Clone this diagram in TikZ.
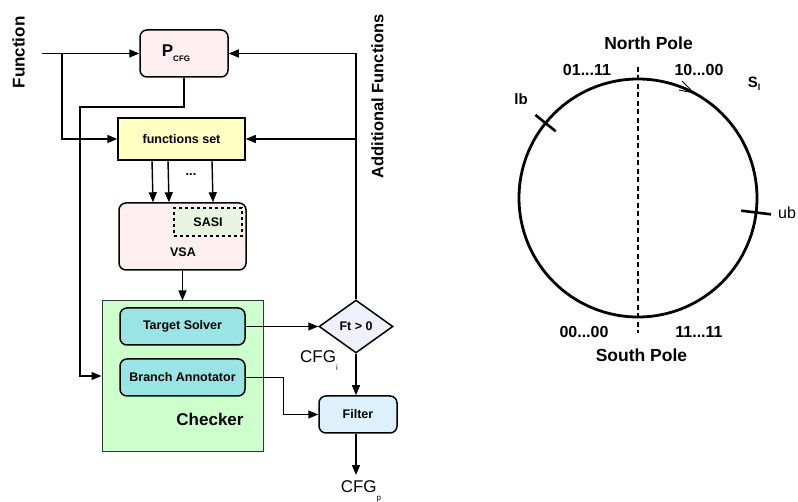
\documentclass[tikz,border=0pt]{standalone}
\usepackage{fontspec}
\setmainfont{Liberation Sans}
\definecolor{boxpink}{HTML}{FDEFEF}
\definecolor{setyellow}{HTML}{FFFFC2}
\definecolor{sasigreen}{HTML}{E9F3E2}
\definecolor{checkgreen}{HTML}{CCFFCC}
\definecolor{stepcyan}{HTML}{99E5E5}
\definecolor{filterblue}{HTML}{DCF1FB}
\definecolor{testgray}{HTML}{EEF0FB}
\usetikzlibrary{arrows.meta, shapes.geometric, positioning}

\begin{document}
\begin{tikzpicture}[x=1pt, y=-1pt,
   block/.style={draw, line width=1.5pt, rounded corners=7pt, inner sep=0pt,
      font=\bfseries\fontsize{12.5}{14}\selectfont},
   flow/.style={-{Triangle[length=10pt,width=8pt]}, line width=1.4pt},
   lbl/.style={font=\bfseries\fontsize{16}{18}\selectfont}]
   \useasboundingbox (0,0) rectangle (798,502);
   % Left: pipeline
   \node[rotate=90, font=\bfseries\fontsize{17}{18}\selectfont] (fname) at (18.5,52.5) {Function};
   \node[rotate=90, font=\bfseries\fontsize{16.5}{18}\selectfont] (addfn) at (377.5,96.5) {Additional Functions};
   \node[block, fill=boxpink, minimum width=88pt, minimum height=47pt] (pcfg) at (184,53.5)
      {{\fontsize{17}{17}\selectfont P}\raisebox{-5pt}{\fontsize{8}{8}\selectfont CFG}\hspace*{16pt}};
   \node[block, fill=setyellow, rounded corners=0pt, minimum width=127pt, minimum height=42pt] (fset) at (181.5,139) {functions set};
   \node[font=\bfseries\fontsize{13}{13}\selectfont] (dots) at (191,175) {...};
   \node[block, fill=boxpink, minimum width=127pt, minimum height=67pt] (vsa) at (182.5,236.5) {};
   \node[block, fill=sasigreen, rounded corners=0pt, dashed, line width=1.3pt, minimum width=68pt, minimum height=28pt] (sasi) at (208,222) {SASI};
   \node[font=\bfseries\fontsize{12.5}{14}\selectfont] (vsatext) at (183,252) {VSA};
   % Checker and its two parts
   \node[draw=black!80, line width=1pt, fill=checkgreen, minimum width=161pt, minimum height=150pt] (checker) at (182.5,376) {};
   \node[block, fill=stepcyan, minimum width=125pt, minimum height=37pt] (tsolver) at (182.5,326.5) {Target Solver};
   \node[block, fill=stepcyan, minimum width=125pt, minimum height=37pt] (bannot) at (182.5,377.5) {Branch Annotator};
   \node[font=\bfseries\fontsize{17}{18}\selectfont] (checktext) at (210,419) {Checker};
   \node[draw, line width=1.5pt, fill=testgray, diamond, inner sep=0pt, minimum width=74pt, minimum height=53pt,
      font=\bfseries\fontsize{12.5}{14}\selectfont] (test) at (356,326.5) {Ft > 0};
   \node[block, fill=filterblue, minimum width=78pt, minimum height=37pt] (filter) at (358,414.5) {Filter};
   \node[font=\fontsize{17}{18}\selectfont] (cfgi) at (319,361)
      {CFG\raisebox{-8pt}{\fontsize{8}{8}\selectfont i}};
   \node[font=\fontsize{17}{18}\selectfont] (cfgp) at (361,491)
      {CFG\raisebox{-8pt}{\fontsize{8}{8}\selectfont p}};
   \coordinate (fin) at (42,53.5);
   \coordinate (fsplit) at (62,53.5);
   \coordinate (pturn) at (80,107);
   \coordinate (fout) at (356,475);
   % Connectors
   \draw[flow] (fin) -- (pcfg.west);
   \draw[flow] (fsplit) |- (fset.west);
   \draw[flow] (pcfg.south) |- (pturn) |- (checker.west);
   \foreach \dx in {-29.5,-13.5,30.5}
      \draw[flow] ([xshift=\dx pt]fset.south) -- ([xshift=\dx pt]vsa.north);
   \draw[flow] (vsa.south) -- (checker.north);
   \draw[flow] (tsolver.east) -- (test.west);
   \draw[flow] (test.north) |- (pcfg.east);
   \draw[flow] (test.north) |- (fset.east);
   \draw[flow] (test.south) -- (test.south |- filter.north);
   \draw[flow] (bannot.east) -- ++(38,0) |- (filter.west);
   \draw[flow] (filter.south -| test.south) -- (fout);
   % Right: circle of values
   \begin{scope}[shift={(638,198)}, y=1pt]
      \draw[line width=2.8pt] (0,0) circle[radius=119pt];
      \draw[line width=2.6pt, dash pattern=on 5pt off 3.5pt] (0,131) -- (0,-135);
      \draw[line width=2.6pt] (141:106) -- (141:132);
      \draw[line width=2.6pt] (-7:104) -- (-7:134);
      \draw[line width=0.9pt] (62:119) -- ++(135:17);
      \draw[line width=0.9pt] (62:119) -- ++(169:15);
      \node[font=\bfseries\fontsize{17.5}{18}\selectfont] (north) at (10.5,155) {North Pole};
      \node[font=\bfseries\fontsize{17.5}{18}\selectfont] (south) at (3.5,-157) {South Pole};
      \node[lbl] (nwcode) at (-51,128) {01...11};
      \node[lbl] (necode) at (61,128) {10...00};
      \node[lbl] (swcode) at (-54,-134) {00...00};
      \node[lbl] (secode) at (61,-134) {11...11};
      \node[font=\bfseries\fontsize{15}{16}\selectfont] (lb) at (-117,99) {lb};
      \node[font=\bfseries\fontsize{15}{16}\selectfont] (sl) at (116,114)
         {S\raisebox{-3pt}{\fontsize{9}{9}\selectfont l}};
      \node[anchor=west, inner sep=0pt, font=\fontsize{16}{16}\selectfont] (ub) at (140,-15) {ub};
   \end{scope}
\end{tikzpicture}
\end{document}
